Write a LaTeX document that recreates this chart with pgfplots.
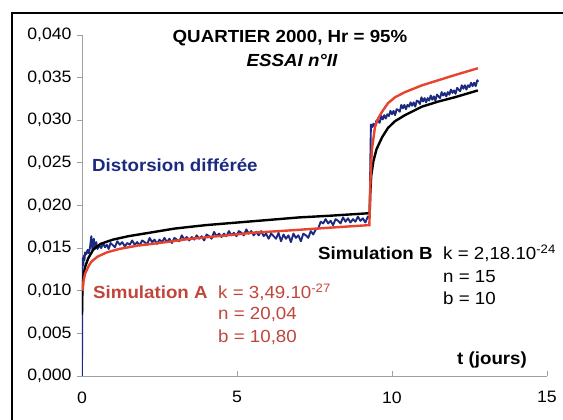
\documentclass[border=0pt]{standalone}
\usepackage{fontspec}
\setmainfont{Liberation Sans}[FakeStretch=1.07]
\usepackage{pgfplots}
\pgfplotsset{compat=1.18}
\definecolor{bluedata}{HTML}{1B2A80}
\definecolor{redsim}{HTML}{E8432C}
\definecolor{redtxt}{HTML}{C0463C}
\definecolor{axgray}{HTML}{A0A0A0}
\begin{document}
\begin{tikzpicture}[font=\fontsize{17.5}{20}\selectfont]
\path[use as bounding box] (0pt,0pt) rectangle (563pt,420pt);
\draw[line width=1.4pt] (12pt,0pt) -- (12pt,407pt) -- (563pt,407pt);
\begin{axis}[
  at={(82pt,44pt)}, anchor=south west,
  scale only axis, width=465pt, height=341pt,
  xmin=0, xmax=15, ymin=0, ymax=0.04,
  axis lines*=left,
  axis line style={axgray, line width=0.9pt},
  xtick={0,5,10,15},
  ytick={0,0.005,0.01,0.015,0.02,0.025,0.03,0.035,0.04},
  scaled y ticks=false,
  /pgf/number format/assume math mode=true,
  yticklabel style={xshift=-2pt, /pgf/number format/fixed, /pgf/number format/fixed zerofill, /pgf/number format/precision=3, /pgf/number format/use comma},
  xticklabel style={yshift=-12pt},
  tick style={axgray, line width=0.9pt},
  xtick align=inside, ytick align=outside,
  major tick length=5pt,
  tick label style={font=\fontsize{16.5}{19}\selectfont},
]
% Distorsion differee (measured, blue)
\addplot[bluedata, line width=1.9pt, line join=round] coordinates {
(0,0.000)(0.005,0.006)(0.01,0.012)(0.02,0.0138)(0.04,0.0130)(0.06,0.0141)(0.08,0.0136)
(0.10,0.0145)(0.14,0.0143)(0.18,0.0148)(0.22,0.0144)(0.26,0.0151)(0.30,0.0164)(0.34,0.0147)
(0.38,0.0161)(0.42,0.0150)(0.46,0.0157)(0.50,0.0149)(0.56,0.0153)(0.62,0.0150)(0.68,0.0156)
(0.74,0.0151)(0.80,0.0154)(0.86,0.0149)(0.92,0.0156)(0.98,0.0154)(1.06,0.0151)(1.14,0.0158)
(1.22,0.0154)(1.30,0.0157)(1.38,0.0152)(1.46,0.0156)(1.54,0.0154)(1.62,0.0159)(1.70,0.0154)
(1.78,0.0157)(1.86,0.0153)(1.94,0.0159)(2.02,0.0157)(2.10,0.0154)(2.18,0.0162)(2.26,0.0157)
(2.34,0.0160)(2.42,0.0155)(2.50,0.0160)(2.58,0.0157)(2.66,0.0162)(2.74,0.0157)(2.82,0.0161)
(2.90,0.0156)(2.98,0.0162)(3.06,0.0160)(3.14,0.0158)(3.22,0.0165)(3.30,0.0160)(3.38,0.0163)
(3.46,0.0159)(3.54,0.0163)(3.62,0.0160)(3.70,0.0165)(3.78,0.0161)(3.86,0.0164)(3.94,0.0159)
(4.02,0.0166)(4.10,0.0164)(4.18,0.0161)(4.26,0.0169)(4.34,0.0164)(4.42,0.0167)(4.50,0.0163)
(4.58,0.0167)(4.66,0.0164)(4.74,0.0170)(4.82,0.0165)(4.90,0.0168)(4.98,0.0164)(5.06,0.0170)
(5.14,0.0168)(5.22,0.0165)(5.30,0.0172)(5.38,0.0167)(5.46,0.0170)(5.54,0.0165)(5.62,0.0169)
(5.70,0.0165)(5.78,0.0170)(5.86,0.0164)(5.94,0.0167)(6.02,0.0161)(6.10,0.0167)(6.18,0.0164)
(6.26,0.0161)(6.34,0.0168)(6.42,0.0158)(6.50,0.0166)(6.58,0.0161)(6.66,0.0165)(6.74,0.0157)
(6.82,0.0167)(6.90,0.0162)(6.98,0.0165)(7.06,0.0158)(7.14,0.0167)(7.22,0.0165)(7.30,0.0162)
(7.38,0.0170)(7.46,0.0166)(7.54,0.0172)(7.62,0.0173)(7.70,0.0181)(7.78,0.0179)(7.86,0.0184)
(7.94,0.0179)(8.02,0.0182)(8.10,0.0177)(8.18,0.0184)(8.26,0.0182)(8.34,0.0179)(8.42,0.0186)
(8.50,0.0181)(8.58,0.0185)(8.66,0.0180)(8.74,0.0184)(8.82,0.0181)(8.90,0.0187)(8.98,0.0182)
(9.06,0.0185)(9.14,0.0180)(9.22,0.0187)(9.28,0.0185)
(9.30,0.0250)(9.32,0.0295)(9.36,0.0292)(9.40,0.0296)(9.45,0.0292)(9.50,0.0300)(9.55,0.0299)
(9.60,0.0297)(9.65,0.0305)(9.70,0.0301)(9.75,0.0306)(9.80,0.0302)(9.85,0.0307)(9.90,0.0305)
(9.95,0.0311)(10.00,0.0307)(10.05,0.0311)(10.10,0.0306)(10.15,0.0313)(10.20,0.0312)(10.25,0.0310)
(10.30,0.0318)(10.35,0.0314)(10.40,0.0318)(10.45,0.0313)(10.50,0.0318)(10.55,0.0316)(10.60,0.0321)
(10.65,0.0317)(10.70,0.0321)(10.75,0.0316)(10.80,0.0323)(10.85,0.0322)(10.90,0.0319)(10.95,0.0327)
(11.00,0.0322)(11.05,0.0326)(11.10,0.0321)(11.15,0.0326)(11.20,0.0323)(11.25,0.0329)(11.30,0.0324)
(11.35,0.0328)(11.40,0.0323)(11.45,0.0330)(11.50,0.0328)(11.55,0.0326)(11.60,0.0333)(11.65,0.0329)
(11.70,0.0332)(11.75,0.0328)(11.80,0.0333)(11.85,0.0330)(11.90,0.0336)(11.95,0.0332)(12.00,0.0335)
(12.05,0.0331)(12.10,0.0338)(12.15,0.0336)(12.20,0.0334)(12.25,0.0341)(12.30,0.0337)(12.35,0.0341)
(12.40,0.0336)(12.45,0.0341)(12.50,0.0339)(12.55,0.0344)(12.60,0.0340)(12.65,0.0344)(12.70,0.0340)
(12.75,0.0347)(12.78,0.0345)
};
% Simulation B (black)
\addplot[black, line width=2.4pt] coordinates {
(0,0.0072)(0.01,0.0095)(0.03,0.0110)(0.06,0.0120)(0.1,0.0128)(0.2,0.0138)(0.36,0.0148)
(0.6,0.0155)(1,0.0160)(1.5,0.0164)(2,0.0167)(2.5,0.0170)(3,0.0173)(4,0.0177)(5,0.0180)
(6,0.0183)(7,0.0186)(8,0.0188)(9.28,0.0191)(9.30,0.0215)(9.33,0.0235)(9.40,0.0252)
(9.50,0.0266)(9.68,0.0280)(9.87,0.0291)(10.1,0.0299)(10.42,0.0306)(10.97,0.0316)
(11.5,0.0322)(12.03,0.0327)(12.4,0.0331)(12.77,0.0335)
};
% Simulation A (red)
\addplot[redsim, line width=2.4pt] coordinates {
(0.02,0.0100)(0.05,0.0112)(0.1,0.0120)(0.2,0.0128)(0.3,0.0134)(0.5,0.0140)(0.8,0.0145)
(1.2,0.0149)(1.8,0.0153)(2.5,0.0156)(3.5,0.0161)(4.67,0.0165)(5.5,0.0168)(6.8,0.0171)
(8,0.0174)(9.27,0.0177)(9.30,0.0225)(9.35,0.0265)(9.45,0.0292)(9.55,0.0302)(9.68,0.0310)
(9.87,0.0320)(10.1,0.0327)(10.42,0.0333)(10.97,0.0341)(11.5,0.0347)(12.03,0.0353)
(12.4,0.0357)(12.77,0.0361)
};
\end{axis}
% texts (positions in px of the reference, y measured from bottom)
\node[font=\fontsize{17.5}{20}\selectfont\bfseries] at (290pt,382pt) {QUARTIER 2000, Hr = 95\%};
\node[font=\fontsize{17.5}{20}\selectfont\bfseries\itshape] at (292pt,360pt) {ESSAI n°II};
\node[anchor=west, inner sep=0pt, text=bluedata, font=\fontsize{17.5}{20}\selectfont\bfseries] at (92pt,255pt) {Distorsion différée};
\node[anchor=west, inner sep=0pt, font=\fontsize{17.5}{20}\selectfont\bfseries] at (318pt,167pt) {Simulation B};
\node[anchor=west, inner sep=0pt] at (443pt,167pt) {k = 2,18.10\textsuperscript{-24}};
\node[anchor=west, inner sep=0pt] at (443pt,143pt) {n = 15};
\node[anchor=west, inner sep=0pt] at (443pt,122pt) {b = 10};
\node[anchor=west, inner sep=0pt, text=redtxt, font=\fontsize{17.5}{20}\selectfont\bfseries] at (93pt,128pt) {Simulation A};
\node[anchor=west, inner sep=0pt, text=redtxt] at (218pt,128pt) {k = 3,49.10\textsuperscript{-27}};
\node[anchor=west, inner sep=0pt, text=redtxt] at (218pt,105pt) {n = 20,04};
\node[anchor=west, inner sep=0pt, text=redtxt] at (218pt,83pt) {b = 10,80};
\node[anchor=west, inner sep=0pt, font=\fontsize{17.5}{20}\selectfont\bfseries] at (457pt,60pt) {t (jours)};
\end{tikzpicture}
\end{document}
